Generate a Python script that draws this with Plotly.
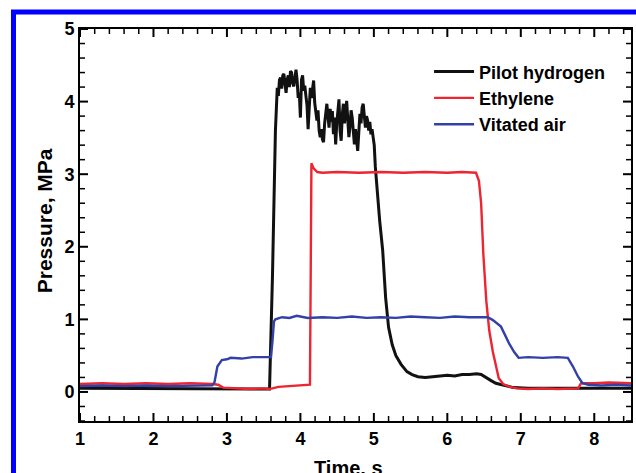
import plotly.graph_objects as go

# ---------------- data ----------------
h_time = [1.0, 1.3, 1.6, 1.9, 2.2, 2.5, 2.8, 3.1, 3.4, 3.58, 3.62, 3.66,
          3.685, 3.70, 3.715, 3.73, 3.745, 3.76, 3.775, 3.79, 3.805, 3.82, 3.835, 3.85,
          3.865, 3.88, 3.895, 3.91, 3.925, 3.94, 3.955, 3.97, 3.985, 4.00, 4.015, 4.03,
          4.045, 4.06, 4.075, 4.09, 4.105, 4.12, 4.135, 4.15, 4.165, 4.18, 4.195, 4.21,
          4.225, 4.24, 4.255, 4.27, 4.285, 4.30, 4.315, 4.33, 4.345, 4.36, 4.375, 4.39,
          4.405, 4.42, 4.435, 4.45, 4.465, 4.48, 4.495, 4.51, 4.525, 4.54, 4.555, 4.57,
          4.585, 4.60, 4.615, 4.63, 4.645, 4.66, 4.675, 4.69, 4.705, 4.72, 4.735, 4.75,
          4.765, 4.78, 4.795, 4.81, 4.825, 4.84, 4.855, 4.87, 4.885, 4.90, 4.915, 4.93,
          4.945, 4.96, 4.975, 4.99, 5.005,
          5.02, 5.05, 5.08, 5.12, 5.16, 5.20, 5.25, 5.30, 5.37, 5.45,
          5.52, 5.60, 5.70, 5.80, 5.90, 6.00, 6.10, 6.20, 6.30, 6.40, 6.46, 6.52, 6.59,
          6.66, 6.73, 6.80, 6.90, 7.1, 7.4, 7.7, 8.0, 8.3, 8.5]
h_press = [0.05, 0.05, 0.04, 0.05, 0.05, 0.04, 0.05, 0.05, 0.04, 0.04, 1.6, 3.6,
           4.19, 4.08, 4.30, 4.33, 4.18, 4.36, 4.38, 4.22, 4.12, 4.30, 4.36, 4.20,
           4.42, 4.40, 4.25, 4.21, 4.38, 4.44, 4.30, 4.05, 4.12, 3.78, 4.30, 4.36,
           4.15, 4.22, 4.08, 3.95, 3.62, 3.90, 4.19, 4.05, 4.22, 4.29, 3.98, 3.85,
           3.74, 3.88, 3.60, 3.51, 3.62, 3.48, 3.44, 3.70, 3.85, 3.97, 3.80, 3.64,
           3.90, 3.72, 3.87, 3.55, 3.78, 3.41, 3.70, 3.95, 4.03, 3.60, 3.46, 3.82,
           3.97, 3.70, 3.92, 4.01, 3.75, 3.51, 3.66, 3.88, 3.78, 3.50, 3.41, 3.62,
           3.45, 3.32, 3.58, 3.83, 3.70, 3.92, 3.97, 3.78, 3.64, 3.80, 3.74, 3.60,
           3.72, 3.55, 3.62, 3.51, 3.40,
           3.10, 2.70, 2.35, 1.95, 1.30, 0.89, 0.65, 0.50, 0.38, 0.28,
           0.24, 0.21, 0.20, 0.21, 0.22, 0.23, 0.22, 0.24, 0.24, 0.25, 0.24, 0.20, 0.16,
           0.12, 0.10, 0.08, 0.06, 0.05, 0.05, 0.05, 0.04, 0.05, 0.05]

e_time = [1.0, 1.3, 1.6, 1.9, 2.2, 2.5, 2.8, 2.88, 2.95, 3.1, 3.3, 3.5, 3.58, 3.7, 3.9,
          4.1, 4.13, 4.14, 4.15, 4.18, 4.23, 4.30, 4.5, 4.8, 5.1, 5.4, 5.7, 6.0, 6.2,
          6.39, 6.43, 6.46, 6.49, 6.53, 6.57, 6.62, 6.66, 6.70, 6.76, 6.85, 6.95, 7.1,
          7.3, 7.5, 7.78, 7.82, 8.0, 8.2, 8.5]
e_press = [0.11, 0.12, 0.11, 0.12, 0.11, 0.12, 0.11, 0.10, 0.06, 0.05, 0.04, 0.05, 0.04,
           0.07, 0.08, 0.09, 0.10, 1.6, 3.15, 3.08, 3.03, 3.02, 3.03, 3.02, 3.03, 3.02,
           3.03, 3.02, 3.03, 3.02, 2.91, 2.60, 1.90, 1.26, 0.85, 0.55, 0.35, 0.19, 0.11,
           0.07, 0.05, 0.04, 0.05, 0.04, 0.05, 0.12, 0.12, 0.13, 0.12]

v_time = [1.0, 1.3, 1.6, 1.9, 2.2, 2.5, 2.8, 2.83, 2.87, 2.93, 3.0, 3.05, 3.2, 3.35, 3.5,
          3.60, 3.62, 3.64, 3.66, 3.75, 3.85, 3.95, 4.1, 4.3, 4.5, 4.7, 4.9, 5.1, 5.3,
          5.5, 5.7, 5.9, 6.1, 6.3, 6.55, 6.62, 6.73, 6.77, 6.84, 6.91, 6.97, 7.1, 7.3,
          7.5, 7.64, 7.71, 7.78, 7.84, 7.92, 8.1, 8.3, 8.5]
v_press = [0.08, 0.09, 0.08, 0.09, 0.08, 0.09, 0.09, 0.13, 0.35, 0.44, 0.45, 0.47, 0.46,
           0.48, 0.48, 0.48, 0.70, 0.97, 1.00, 1.03, 1.02, 1.05, 1.02, 1.03, 1.02, 1.04,
           1.02, 1.03, 1.02, 1.04, 1.03, 1.02, 1.04, 1.03, 1.03, 0.99, 0.90, 0.81, 0.67,
           0.55, 0.47, 0.48, 0.47, 0.48, 0.47, 0.35, 0.21, 0.12, 0.10, 0.09, 0.10, 0.09]

series_names = ["Pilot hydrogen", "Ethylene", "Vitated air"]
x_ticks = [1, 2, 3, 4, 5, 6, 7, 8]
y_ticks = [0, 1, 2, 3, 4, 5]
x_range = [1, 8.5]
y_range = [-0.4, 5]

# ---------------- figure ----------------
FONT = "Liberation Sans, Arial, Helvetica, sans-serif"
fig = go.Figure()
fig.add_trace(go.Scatter(x=h_time, y=h_press, mode="lines", name=series_names[0],
                         line=dict(color="#111111", width=3)))
fig.add_trace(go.Scatter(x=e_time, y=e_press, mode="lines", name=series_names[1],
                         line=dict(color="#ee2530", width=2.4)))
fig.add_trace(go.Scatter(x=v_time, y=v_press, mode="lines", name=series_names[2],
                         line=dict(color="#3340a8", width=2.4)))

axis_common = dict(
    showline=True, linecolor="black", linewidth=2, mirror=True,
    ticks="", showgrid=False, zeroline=False,
    tickfont=dict(family=FONT, size=18, color="black", weight="bold"),
)
fig.update_xaxes(range=x_range, tickvals=x_ticks, **axis_common)
fig.update_yaxes(range=y_range, tickvals=y_ticks, **axis_common)

# inside tick marks on all four sides (major every 1, minor every 0.2)
PLOT_W, PLOT_H = 551, 392
shapes = []
def tick_len(px, along):
    return px / (PLOT_H if along == "y" else PLOT_W)

x_minor = [round(x_range[0] + 0.2 * i, 2) for i in range(int(round((x_range[1] - x_range[0]) / 0.2)) + 1)]
y_minor = [round(y_range[0] + 0.2 * i, 2) for i in range(int(round((y_range[1] - y_range[0]) / 0.2)) + 1)]
for xv in x_minor:
    is_major = abs(xv - round(xv)) < 1e-6
    L = tick_len(8 if is_major else 5, "y")
    w = 2 if is_major else 1.5
    for y0, y1 in ((0, L), (1, 1 - L)):
        shapes.append(dict(type="line", xref="x", yref="paper", x0=xv, x1=xv, y0=y0, y1=y1,
                           line=dict(color="black", width=w), layer="above"))
for yv in y_minor:
    is_major = abs(yv - round(yv)) < 1e-6
    L = tick_len(8 if is_major else 5, "x")
    w = 2 if is_major else 1.5
    for x0, x1 in ((0, L), (1, 1 - L)):
        shapes.append(dict(type="line", xref="paper", yref="y", x0=x0, x1=x1, y0=yv, y1=yv,
                           line=dict(color="black", width=w), layer="above"))

# blue outer frame of the figure
shapes.append(dict(type="rect", xref="paper", yref="paper",
                   x0=-0.1207, x1=1.2, y0=-0.3, y1=1.0434,
                   line=dict(color="#0000ff", width=5), fillcolor="rgba(0,0,0,0)",
                   layer="above"))

fig.update_layout(
    width=636, height=473,
    margin=dict(l=80, r=5, t=29, b=52, autoexpand=False),
    paper_bgcolor="white", plot_bgcolor="white",
    showlegend=True,
    legend=dict(x=0.6335, y=0.938, xanchor="left", yanchor="top",
                bgcolor="rgba(0,0,0,0)", itemwidth=40,
                font=dict(family=FONT, size=18, color="black", weight="bold"),
                tracegroupgap=0),
    annotations=[
        dict(text="Pressure, MPa", xref="paper", yref="paper", x=-0.065, y=0.51,
             textangle=-90, showarrow=False, xanchor="center", yanchor="middle",
             font=dict(family=FONT, size=21, color="black", weight="bold")),
        dict(text="Time, s", xref="paper", yref="paper", x=0.488, y=-0.088,
             showarrow=False, xanchor="center", yanchor="top",
             font=dict(family=FONT, size=20, color="black", weight="bold")),
    ],
    shapes=shapes,
)

fig.write_html("out.html")
